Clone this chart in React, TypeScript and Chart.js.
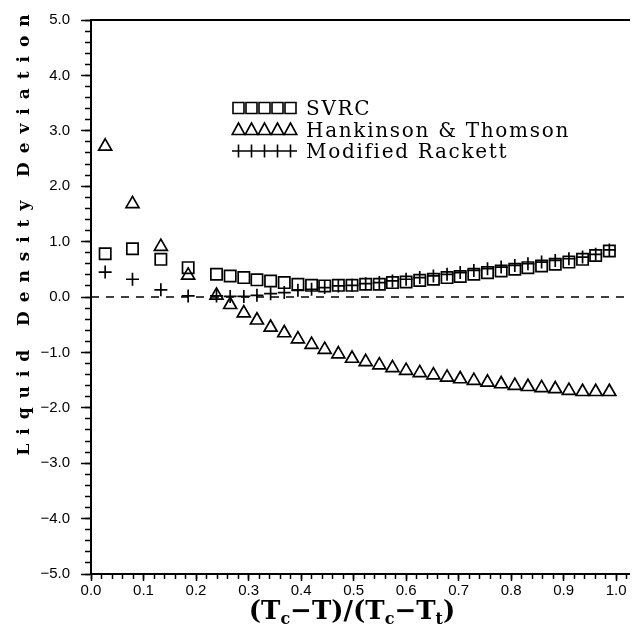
import React, { useEffect, useRef } from 'react';
import { Chart, registerables } from 'chart.js';

Chart.register(...registerables);

// ---- data ----
const X_VALUES = [
  0.027, 0.079, 0.133, 0.185,
  0.239, 0.265, 0.291, 0.316, 0.342, 0.368, 0.394, 0.420, 0.445, 0.471,
  0.497, 0.523, 0.549, 0.574, 0.600, 0.626, 0.652, 0.678, 0.703, 0.729,
  0.755, 0.781, 0.807, 0.832, 0.858, 0.884, 0.910, 0.936, 0.961, 0.987,
];
const SVRC = [
  0.78, 0.87, 0.68, 0.53,
  0.41, 0.38, 0.35, 0.31, 0.29, 0.26, 0.23, 0.21, 0.20, 0.21,
  0.21, 0.23, 0.23, 0.26, 0.27, 0.30, 0.32, 0.35, 0.37, 0.41,
  0.44, 0.47, 0.50, 0.53, 0.56, 0.59, 0.63, 0.68, 0.75, 0.83,
];
const HANKINSON = [
  2.72, 1.68, 0.91, 0.39,
  0.03, -0.14, -0.29, -0.42, -0.55, -0.65, -0.76, -0.86, -0.95, -1.03,
  -1.11, -1.17, -1.23, -1.28, -1.33, -1.37, -1.41, -1.45, -1.48, -1.51,
  -1.54, -1.57, -1.60, -1.62, -1.64, -1.66, -1.69, -1.71, -1.71, -1.71,
];
const RACKETT = [
  0.45, 0.32, 0.13, 0.02,
  0.02, 0.01, 0.01, 0.03, 0.06, 0.08, 0.12, 0.14, 0.17, 0.20,
  0.21, 0.24, 0.26, 0.29, 0.32, 0.35, 0.38, 0.41, 0.44, 0.48,
  0.51, 0.54, 0.57, 0.60, 0.63, 0.66, 0.69, 0.72, 0.77, 0.85,
];
const SERIES_NAMES = ['SVRC', 'Hankinson & Thomson', 'Modified Rackett'];
const Y_AXIS_TITLE = 'Liquid Density Deviation';
const X_MAJOR_TICKS = [0, 0.1, 0.2, 0.3, 0.4, 0.5, 0.6, 0.7, 0.8, 0.9, 1.0];
const Y_MAJOR_TICKS = [-5, -4, -3, -2, -1, 0, 1, 2, 3, 4, 5];
const X_RANGE = [0, 1.025];
const Y_RANGE = [-5, 5];

const xMinorTicks: number[] = [];
for (let i = 0; i <= 51; i++) xMinorTicks.push(+(i * 0.02).toFixed(2));
const yMinorTicks: number[] = [];
for (let i = -25; i <= 25; i++) yMinorTicks.push(+(i * 0.2).toFixed(1));

const fmt = (v: number) => (v < -1e-9 ? '\u2212' : '') + Math.abs(v).toFixed(1);
const pts = (ys: number[]) => X_VALUES.map((x, i) => ({ x, y: ys[i] }));

const TICK_FONT = { family: '"Liberation Sans", Arial, sans-serif', size: 15 };

const annotPlugin = {
  id: 'annot',
  afterDraw(chart: any) {
    const ctx: CanvasRenderingContext2D = chart.ctx;
    ctx.save();
    ctx.fillStyle = '#000';
    ctx.strokeStyle = '#000';

    // ---- legend ----
    const rows = [108, 129.5, 151];
    const symX0 = 238.5;
    const step = 13;
    ctx.lineWidth = 1.6;
    rows.forEach((cy, r) => {
      for (let i = 0; i < 5; i++) {
        const cx = symX0 + i * step;
        ctx.beginPath();
        if (r === 0) {
          ctx.rect(cx - 5.5, cy - 5.5, 11, 11);
        } else if (r === 1) {
          ctx.moveTo(cx, cy - 6.5);
          ctx.lineTo(cx - 6.3, cy + 5);
          ctx.lineTo(cx + 6.3, cy + 5);
          ctx.closePath();
        } else {
          ctx.moveTo(cx - 6.5, cy);
          ctx.lineTo(cx + 6.5, cy);
          ctx.moveTo(cx, cy - 6.5);
          ctx.lineTo(cx, cy + 6.5);
        }
        ctx.stroke();
      }
    });
    ctx.font = '20px "DejaVu Serif", serif';
    (ctx as any).letterSpacing = '0px';
    const w0 = ctx.measureText(SERIES_NAMES[1]).width;
    const ls = Math.max(0, (264 - w0) / SERIES_NAMES[1].length);
    (ctx as any).letterSpacing = ls + 'px';
    ctx.textAlign = 'left';
    ctx.textBaseline = 'alphabetic';
    rows.forEach((cy, r) => {
      ctx.fillText(SERIES_NAMES[r], 306, cy + 7);
    });

    // ---- y axis title ----
    ctx.font = 'bold 17px "DejaVu Serif", serif';
    (ctx as any).letterSpacing = '0px';
    const tw = ctx.measureText(Y_AXIS_TITLE).width;
    const tls = Math.max(0, (450 - tw) / Y_AXIS_TITLE.length);
    (ctx as any).letterSpacing = tls + 'px';
    ctx.save();
    ctx.translate(25, 235);
    ctx.rotate(-Math.PI / 2);
    ctx.textAlign = 'center';
    ctx.textBaseline = 'middle';
    ctx.fillText(Y_AXIS_TITLE, tls / 2, 0);
    ctx.restore();
    (ctx as any).letterSpacing = '0px';

    // ---- x axis title: (Tc−T)/(Tc−Tt) ----
    const big = 'bold 26px "DejaVu Serif", serif';
    const small = 'bold 16px "DejaVu Serif", serif';
    const parts: [string, boolean][] = [
      ['(T', false], ['c', true], ['\u2212T)/(T', false], ['c', true], ['\u2212T', false], ['t', true], [')', false],
    ];
    let total = 0;
    parts.forEach(([t, sub]) => { ctx.font = sub ? small : big; total += ctx.measureText(t).width; });
    let x = 352 - total / 2;
    const base = 619;
    ctx.textAlign = 'left';
    ctx.textBaseline = 'alphabetic';
    parts.forEach(([t, sub]) => {
      ctx.font = sub ? small : big;
      ctx.fillText(t, x, sub ? base + 5 : base);
      x += ctx.measureText(t).width;
    });
    ctx.restore();
  },
};

export default function App() {
  const ref = useRef<HTMLCanvasElement | null>(null);
  useEffect(() => {
    document.body.style.margin = '0';
    const canvas = ref.current!;
    const markerBase = {
      type: 'scatter' as const,
      showLine: false,
      borderColor: '#000',
      backgroundColor: 'rgba(0,0,0,0)',
      pointBorderWidth: 1.7,
    };
    const chart = new Chart(canvas, {
      type: 'scatter',
      data: {
        datasets: [
          {
            label: 'zero',
            type: 'line',
            data: [{ x: X_RANGE[0], y: 0 }, { x: X_RANGE[1], y: 0 }],
            borderColor: '#000',
            borderWidth: 1.5,
            borderDash: [8, 7],
            pointRadius: 0,
            fill: false,
            xAxisID: 'x',
            yAxisID: 'y',
          } as any,
          { ...markerBase, label: SERIES_NAMES[0], data: pts(SVRC), pointStyle: 'rect', pointRadius: 8, xAxisID: 'x', yAxisID: 'y' },
          { ...markerBase, label: SERIES_NAMES[1], data: pts(HANKINSON), pointStyle: 'triangle', pointRadius: 7.5, xAxisID: 'x', yAxisID: 'y' },
          { ...markerBase, label: SERIES_NAMES[2], data: pts(RACKETT), pointStyle: 'cross', pointRadius: 6.5, xAxisID: 'x', yAxisID: 'y' },
        ],
      },
      options: {
        responsive: false,
        animation: false,
        devicePixelRatio: 1,
        layout: { padding: { top: 15, left: 0, right: 0, bottom: 0 } },
        plugins: { legend: { display: false }, tooltip: { enabled: false }, title: { display: false } },
        scales: {
          x: {
            type: 'linear', position: 'bottom', weight: 1,
            min: X_RANGE[0], max: X_RANGE[1],
            afterBuildTicks: (s: any) => { s.ticks = X_MAJOR_TICKS.map((v) => ({ value: v })); },
            afterFit: (s: any) => { s.height = 53; },
            grid: { display: true, drawOnChartArea: false, drawTicks: true, tickLength: 7, tickWidth: 1.5, tickColor: '#000' },
            border: { display: true, color: '#000', width: 2 },
            ticks: { callback: (v: any) => fmt(Number(v)), font: TICK_FONT, color: '#000', padding: 1, maxRotation: 0, autoSkip: false },
          },
          xMinor: {
            type: 'linear', position: 'bottom', weight: 0,
            min: X_RANGE[0], max: X_RANGE[1],
            afterBuildTicks: (s: any) => { s.ticks = xMinorTicks.map((v) => ({ value: v })); },
            afterFit: (s: any) => { s.height = 0; },
            grid: { display: true, drawOnChartArea: false, drawTicks: true, tickLength: 5, tickWidth: 1.5, tickColor: '#000' },
            border: { display: false },
            ticks: { display: false },
          },
          xTop: {
            type: 'linear', position: 'top',
            min: X_RANGE[0], max: X_RANGE[1],
            afterFit: (s: any) => { s.height = 0; },
            grid: { display: false },
            border: { display: true, color: '#000', width: 2 },
            ticks: { display: false },
          },
          y: {
            type: 'linear', position: 'left', weight: 1,
            min: Y_RANGE[0], max: Y_RANGE[1],
            afterBuildTicks: (s: any) => { s.ticks = Y_MAJOR_TICKS.map((v) => ({ value: v })); },
            afterFit: (s: any) => { s.width = 91; },
            grid: { display: true, drawOnChartArea: false, drawTicks: true, tickLength: 10, tickWidth: 1.5, tickColor: '#000' },
            border: { display: true, color: '#000', width: 2 },
            ticks: { callback: (v: any) => fmt(Number(v)), font: TICK_FONT, color: '#000', padding: 11, autoSkip: false },
          },
          yMinor: {
            type: 'linear', position: 'left', weight: 0,
            min: Y_RANGE[0], max: Y_RANGE[1],
            afterBuildTicks: (s: any) => { s.ticks = yMinorTicks.map((v) => ({ value: v })); },
            afterFit: (s: any) => { s.width = 0; },
            grid: { display: true, drawOnChartArea: false, drawTicks: true, tickLength: 6, tickWidth: 1.5, tickColor: '#000' },
            border: { display: false },
            ticks: { display: false },
          },
        },
      } as any,
      plugins: [annotPlugin],
    });
    return () => chart.destroy();
  }, []);
  return (
    <div style={{ width: 639, height: 627, background: '#fff' }}>
      <canvas ref={ref} width={639} height={627} style={{ display: 'block' }} />
    </div>
  );
}
